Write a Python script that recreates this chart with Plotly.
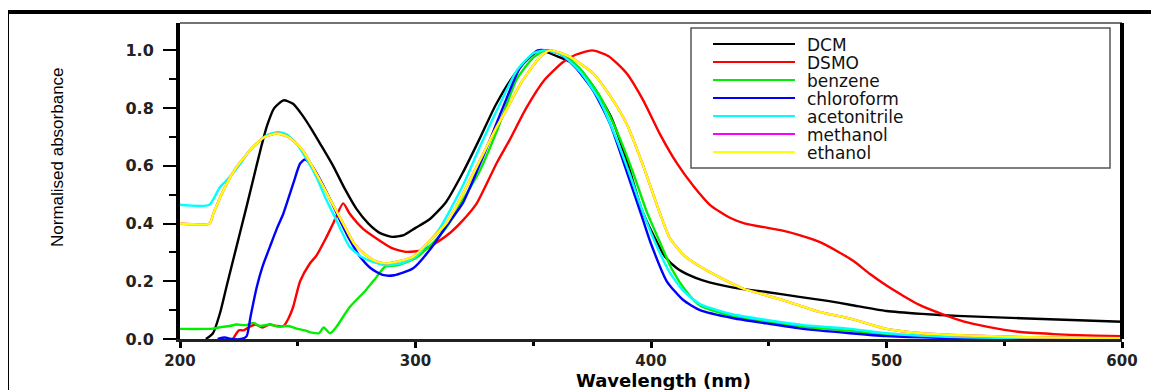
import plotly.graph_objects as go

# ---------------- data ----------------
dcm_wl = [211, 214, 217, 220, 224, 228, 231, 234, 237, 240, 244, 248, 252, 256, 260, 265, 270, 275, 280, 285,
          290, 295, 300, 306, 313, 320, 327, 334, 341, 347, 353, 360, 368, 375, 383, 390, 396, 401, 406, 411,
          416, 422, 435, 449, 463, 475, 485, 500, 515, 530, 557, 600]
dcm_abs = [0.0, 0.02, 0.09, 0.19, 0.32, 0.45, 0.55, 0.65, 0.74, 0.80, 0.827, 0.815, 0.775, 0.725, 0.67, 0.60, 0.52,
           0.45, 0.40, 0.367, 0.354, 0.36, 0.385, 0.415, 0.475, 0.575, 0.69, 0.81, 0.905, 0.965, 1.0, 0.98, 0.95,
           0.88, 0.77, 0.61, 0.45, 0.36, 0.285, 0.245, 0.222, 0.203, 0.178, 0.163, 0.146, 0.132, 0.118, 0.097,
           0.087, 0.08, 0.072, 0.06]

dsmo_wl = [222.5, 225, 227, 229, 232, 235, 238, 241, 244, 246, 248, 251, 255, 258, 262, 265, 269.3, 272, 278, 285,
           290, 296, 303, 310, 315, 320, 326, 334.5, 340, 347, 355, 362.7, 368, 375, 382, 389.7, 396.7, 403.8,
           410.9, 418, 425, 433.5, 440, 455, 463, 472, 480, 486, 493, 500, 507, 514, 524, 533, 542.5, 556, 571,
           585, 600]
dsmo_abs = [0.0, 0.03, 0.03, 0.04, 0.05, 0.04, 0.05, 0.045, 0.045, 0.07, 0.11, 0.20, 0.26, 0.29, 0.35, 0.40, 0.47,
            0.435, 0.38, 0.34, 0.315, 0.302, 0.308, 0.34, 0.37, 0.41, 0.47, 0.61, 0.69, 0.80, 0.90, 0.96, 0.985,
            1.0, 0.98, 0.92, 0.827, 0.71, 0.61, 0.53, 0.465, 0.42, 0.40, 0.377, 0.36, 0.335, 0.30, 0.27, 0.225,
            0.185, 0.15, 0.118, 0.085, 0.06, 0.043, 0.025, 0.017, 0.012, 0.01]

benzene_wl = [200, 210, 214, 218, 221, 224, 228, 231, 234, 238, 242, 246, 250, 253, 256, 259, 261, 263.7, 266.5,
              272, 279, 283, 287, 292, 300, 307, 313, 320, 327.4, 335, 343, 350, 355, 363, 370, 378, 386, 392,
              398, 403, 409, 415, 421, 435, 449, 465, 485, 500, 530, 600]
benzene_abs = [0.035, 0.035, 0.036, 0.042, 0.045, 0.05, 0.048, 0.056, 0.045, 0.05, 0.043, 0.045, 0.035, 0.03,
               0.022, 0.02, 0.04, 0.02, 0.043, 0.11, 0.17, 0.21, 0.25, 0.255, 0.28, 0.33, 0.385, 0.48, 0.585,
               0.73, 0.90, 0.975, 1.0, 0.985, 0.935, 0.845, 0.71, 0.585, 0.445, 0.35, 0.24, 0.165, 0.115, 0.078,
               0.06, 0.042, 0.028, 0.015, 0.005, 0.002]

chloroform_wl = [216, 219, 222, 226, 228.3, 230, 232.6, 235, 238.2, 241, 243.9, 248.1, 251, 253, 256, 260, 264,
                 268, 272, 276, 281, 286, 291, 299, 306, 313, 320, 326, 331.6, 338, 344.4, 352, 361, 368, 375.5,
                 382.6, 389.7, 396.7, 400, 406.7, 413.7, 420.8, 435, 449, 463, 484.5, 500, 530, 600]
chloroform_abs = [0.0, 0.005, 0.0, 0.0, 0.01, 0.08, 0.18, 0.25, 0.32, 0.38, 0.435, 0.539, 0.608, 0.622, 0.60,
                  0.545, 0.48, 0.41, 0.345, 0.29, 0.245, 0.222, 0.221, 0.245, 0.308, 0.39, 0.47, 0.58, 0.69, 0.82,
                  0.94, 1.0, 0.99, 0.94, 0.86, 0.746, 0.58, 0.41, 0.33, 0.20, 0.135, 0.10, 0.072, 0.054, 0.037,
                  0.02, 0.01, 0.003, 0.0]

acetonitrile_wl = [200, 212.4, 217, 221, 225, 229.7, 236.8, 241.7, 245, 249.5, 254, 258, 262, 266.5, 272, 277,
                   281, 288, 295, 300, 310, 320, 327, 335, 343, 350, 355, 362, 370, 378, 385, 391, 397, 402, 408,
                   414, 421, 435, 449, 465, 485, 500, 530, 600]
acetonitrile_abs = [0.465, 0.465, 0.527, 0.56, 0.60, 0.654, 0.706, 0.717, 0.71, 0.677, 0.62, 0.56, 0.485, 0.41,
                    0.32, 0.285, 0.27, 0.255, 0.265, 0.285, 0.38, 0.53, 0.66, 0.80, 0.93, 0.99, 1.0, 0.985,
                    0.925, 0.83, 0.70, 0.57, 0.43, 0.33, 0.23, 0.165, 0.12, 0.085, 0.066, 0.048, 0.035, 0.02,
                    0.007, 0.002]

ethanol_wl = [200, 212.5, 214.2, 218.4, 224, 231, 236, 241, 246, 252, 259.4, 264, 269.3, 274, 278, 283, 288,
              299, 306, 313, 318, 327.4, 334.5, 339, 345, 352.9, 357, 365, 375.5, 382, 389.7, 396.7, 403.8, 408,
              414, 421, 430, 439, 456, 471, 485, 500, 515, 528, 560, 600]
ethanol_abs = [0.40, 0.40, 0.435, 0.515, 0.596, 0.665, 0.70, 0.712, 0.70, 0.655, 0.55, 0.48, 0.40, 0.33, 0.297,
               0.27, 0.262, 0.285, 0.34, 0.40, 0.47, 0.62, 0.735, 0.80, 0.89, 0.977, 1.0, 0.98, 0.92, 0.85,
               0.745, 0.60, 0.435, 0.35, 0.29, 0.25, 0.21, 0.175, 0.135, 0.095, 0.07, 0.035, 0.02, 0.014,
               0.006, 0.003]

# methanol is not visible in the picture: it lies under the ethanol curve
methanol_wl = [200, 212.5, 214.2, 218.4, 224, 231, 236, 241, 246, 252, 259.4, 264, 269.3, 274, 278, 283, 288,
               299, 306, 313, 318, 327.4, 334.5, 339, 345, 352.9, 357, 365, 375.5, 382, 389.7, 396.7, 403.8, 408,
               414, 421, 430, 439, 456, 471, 485, 500, 515, 528, 560, 600]
methanol_abs = [0.40, 0.40, 0.435, 0.515, 0.596, 0.665, 0.70, 0.712, 0.70, 0.655, 0.55, 0.48, 0.40, 0.33, 0.297,
                0.27, 0.262, 0.285, 0.34, 0.40, 0.47, 0.62, 0.735, 0.80, 0.89, 0.977, 1.0, 0.98, 0.92, 0.85,
                0.745, 0.60, 0.435, 0.35, 0.29, 0.25, 0.21, 0.175, 0.135, 0.095, 0.07, 0.035, 0.02, 0.014,
                0.006, 0.003]

series_names = ["DCM", "DSMO", "benzene", "chloroform", "acetonitrile", "methanol", "ethanol"]
series_colors = ["#000000", "#ff0000", "#00ee00", "#0000ff", "#00ffff", "#ff00ff", "#ffff00"]
series_wl = [dcm_wl, dsmo_wl, benzene_wl, chloroform_wl, acetonitrile_wl, methanol_wl, ethanol_wl]
series_abs = [dcm_abs, dsmo_abs, benzene_abs, chloroform_abs, acetonitrile_abs, methanol_abs, ethanol_abs]

x_ticks = [200, 300, 400, 500, 600]
y_ticks = [0.0, 0.2, 0.4, 0.6, 0.8, 1.0]
x_title = "Wavelength (nm)"
y_title = "Normalised absorbance"

# ---------------- layout geometry ----------------
# the page body adds an 8 px margin, so the figure is drawn 8 px smaller and
# every reference pixel position is shifted by that amount
OFF = 8
W, H = 1159 - OFF, 390 - OFF
PLOT_L, PLOT_R, PLOT_T, PLOT_B = 180, 1122, 23, 339   # in reference pixels
ML = PLOT_L - OFF
MT = PLOT_T - OFF
MR = W - (PLOT_R - OFF)
MB = H - (PLOT_B - OFF)
PW = PLOT_R - PLOT_L
PH = PLOT_B - PLOT_T


def fx(p):
    return (p - PLOT_L) / PW


def fy(p):
    return (PLOT_B - p) / PH


fig = go.Figure()
for i in range(len(series_names)):
    fig.add_trace(go.Scatter(
        x=series_wl[i], y=series_abs[i], mode="lines", name=series_names[i],
        line=dict(color=series_colors[i], width=2.4, shape="spline", smoothing=0.6),
        showlegend=False, hoverinfo="skip"))

shapes = []
annotations = []

# outer black frame of the figure (its right and bottom edges run off the picture)
shapes.append(dict(type="rect", xref="paper", yref="paper",
                   x0=fx(7), x1=fx(1300), y0=fy(500), y1=fy(12),
                   line=dict(color="black", width=4), fillcolor="rgba(0,0,0,0)", layer="above"))
# top (thin) and right (thick) edges of the plot frame
shapes.append(dict(type="line", xref="paper", yref="paper", x0=0, x1=1, y0=1, y1=1,
                   line=dict(color="#444444", width=1.5), layer="above"))
shapes.append(dict(type="line", xref="paper", yref="paper", x0=1, x1=1, y0=0, y1=1,
                   line=dict(color="black", width=4), layer="above"))

# legend box drawn in the style of the original
shapes.append(dict(type="rect", xref="paper", yref="paper",
                   x0=fx(691), x1=fx(1110), y0=fy(168), y1=fy(28),
                   line=dict(color="#555555", width=1.5), fillcolor="white", layer="above"))
for k, (nm, col) in enumerate(zip(series_names, series_colors)):
    yy = 44 + 18 * k
    shapes.append(dict(type="line", xref="paper", yref="paper",
                       x0=fx(713), x1=fx(795), y0=fy(yy), y1=fy(yy),
                       line=dict(color=col, width=2), layer="above"))
    annotations.append(dict(xref="paper", yref="paper", x=fx(805), y=fy(yy + 1), text=nm,
                            showarrow=False, xanchor="left", yanchor="middle",
                            font=dict(family="DejaVu Sans", size=17, color="#111111")))

annotations.append(dict(xref="paper", yref="paper", x=fx(663), y=fy(380), text=x_title,
                        showarrow=False, xanchor="center", yanchor="middle",
                        font=dict(family="DejaVu Sans", size=18, color="black", weight="bold")))
annotations.append(dict(xref="paper", yref="paper", x=fx(57), y=fy(157), text=y_title,
                        showarrow=False, textangle=-90, xanchor="center", yanchor="middle",
                        font=dict(family="Liberation Sans Narrow, Liberation Sans, Arial", size=17,
                                  color="black")))

fig.update_layout(
    width=W, height=H,
    margin=dict(l=ML, r=MR, t=MT, b=MB, pad=0),
    paper_bgcolor="white", plot_bgcolor="white",
    showlegend=False,
    shapes=shapes, annotations=annotations,
    xaxis=dict(range=[200, 600], tickvals=x_ticks, ticktext=[str(v) for v in x_ticks],
               showgrid=False, zeroline=False, showline=True, linecolor="#222222", linewidth=2.5,
               ticks="outside", ticklen=6, tickwidth=3, tickcolor="black",
               minor=dict(dtick=50, ticks="outside", ticklen=4, tickwidth=3, tickcolor="black", showgrid=False),
               tickfont=dict(family="DejaVu Sans", size=15, color="#222222", weight="bold")),
    yaxis=dict(range=[0, 1.095], tickvals=y_ticks, ticktext=["%.1f" % v for v in y_ticks],
               showgrid=False, zeroline=False, showline=True, linecolor="black", linewidth=4,
               ticks="outside", ticklen=13, tickwidth=2, tickcolor="black",
               minor=dict(dtick=0.1, ticks="outside", ticklen=7, tickwidth=2, tickcolor="black", showgrid=False),
               ticklabelstandoff=6,
               tickfont=dict(family="DejaVu Sans", size=16, color="#222222", weight="bold")),
)

fig.write_html("out.html")
